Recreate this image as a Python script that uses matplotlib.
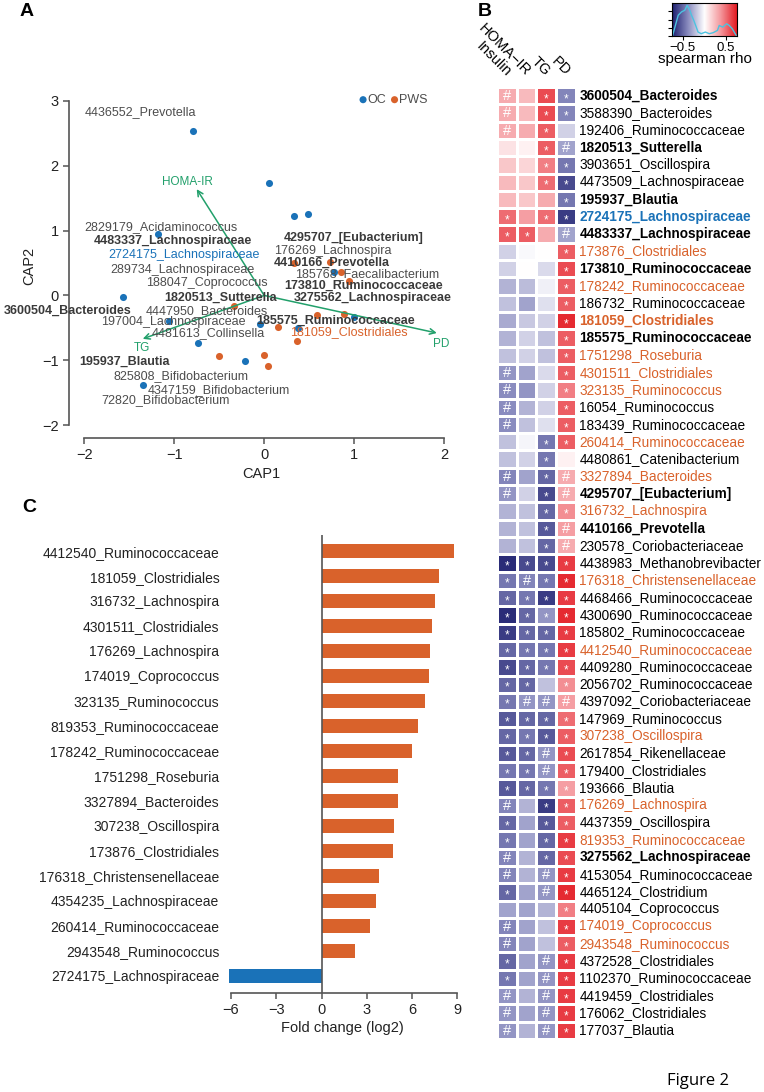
import numpy as np
import matplotlib.pyplot as plt
from matplotlib.colors import LinearSegmentedColormap

plt.rcParams['font.family'] = ['Liberation Sans', 'DejaVu Sans']

# ---- panel A: CAP ordination ----
oc_x = [-0.79, 0.05, 0.33, 0.49, -1.18, -1.57, 0.78, -1.06, -0.05, 0.38, 1.00, -0.74, -0.21, -1.35]
oc_y = [2.54, 1.74, 1.22, 1.25, 0.94, -0.03, 0.36, -0.39, -0.44, -0.50, -0.34, -0.74, -1.01, -1.38]
pws_x = [0.73, 0.33, 0.86, 0.94, -0.33, 0.59, 0.89, 0.15, 0.37, -0.50, 0.00, 0.04]
pws_y = [0.52, 0.50, 0.36, 0.22, -0.17, -0.30, -0.29, -0.49, -0.70, -0.94, -0.92, -1.09]

arrow_names = ['HOMA-IR', 'TG', 'PD']
arrow_x = [-0.75, -1.35, 1.92]
arrow_y = [1.64, -0.67, -0.58]
arrow_lab_x = [-0.85, -1.36, 1.97]
arrow_lab_y = [1.75, -0.81, -0.75]

otu_names = ['4436552_Prevotella', '2829179_Acidaminococcus', '4483337_Lachnospiraceae',
             '2724175_Lachnospiraceae', '289734_Lachnospiraceae', '188047_Coprococcus',
             '1820513_Sutterella', '3600504_Bacteroides', '4447950_Bacteroides',
             '197004_Lachnospiraceae', '4481613_Collinsella', '195937_Blautia',
             '825808_Bifidobacterium', '4347159_Bifidobacterium', '72820_Bifidobacterium',
             '4295707_[Eubacterium]', '176269_Lachnospira', '4410166_Prevotella',
             '185768_Faecalibacterium', '173810_Ruminococcaceae', '3275562_Lachnospiraceae',
             '185575_Ruminococcaceae', '181059_Clostridiales']
otu_x = [-1.38, -1.15, -1.02, -0.89, -0.91, -0.64, -0.48, -2.19, -0.64, -1.01, -0.62, -1.55,
         -0.92, -0.50, -1.10, 1.00, 0.76, 0.75, 1.15, 1.11, 1.21, 0.79, 0.94]
otu_y = [2.83, 1.06, 0.84, 0.62, 0.39, 0.19, -0.04, -0.23, -0.24, -0.41, -0.58, -1.03,
         -1.25, -1.46, -1.62, 0.88, 0.69, 0.51, 0.33, 0.15, -0.04, -0.39, -0.56]
# n = normal, b = bold, o = orange, c = blue
otu_kind = ['n', 'n', 'b', 'c', 'n', 'n', 'b', 'b', 'n', 'n', 'n', 'b',
            'n', 'n', 'n', 'b', 'n', 'b', 'n', 'b', 'b', 'b', 'o']

# ---- panel B: spearman heatmap ----
heat_cols = ['Insulin', 'HOMA\u2212IR', 'TG', 'PD']
heat_rows = ['3600504_Bacteroides', '3588390_Bacteroides', '192406_Ruminococcaceae',
             '1820513_Sutterella', '3903651_Oscillospira', '4473509_Lachnospiraceae',
             '195937_Blautia', '2724175_Lachnospiraceae', '4483337_Lachnospiraceae',
             '173876_Clostridiales', '173810_Ruminococcaceae', '178242_Ruminococcaceae',
             '186732_Ruminococcaceae', '181059_Clostridiales', '185575_Ruminococcaceae',
             '1751298_Roseburia', '4301511_Clostridiales', '323135_Ruminococcus',
             '16054_Ruminococcus', '183439_Ruminococcaceae', '260414_Ruminococcaceae',
             '4480861_Catenibacterium', '3327894_Bacteroides', '4295707_[Eubacterium]',
             '316732_Lachnospira', '4410166_Prevotella', '230578_Coriobacteriaceae',
             '4438983_Methanobrevibacter', '176318_Christensenellaceae', '4468466_Ruminococcaceae',
             '4300690_Ruminococcaceae', '185802_Ruminococcaceae', '4412540_Ruminococcaceae',
             '4409280_Ruminococcaceae', '2056702_Ruminococcaceae', '4397092_Coriobacteriaceae',
             '147969_Ruminococcus', '307238_Oscillospira', '2617854_Rikenellaceae',
             '179400_Clostridiales', '193666_Blautia', '176269_Lachnospira',
             '4437359_Oscillospira', '819353_Ruminococcaceae', '3275562_Lachnospiraceae',
             '4153054_Ruminococcaceae', '4465124_Clostridium', '4405104_Coprococcus',
             '174019_Coprococcus', '2943548_Ruminococcus', '4372528_Clostridiales',
             '1102370_Ruminococcaceae', '4419459_Clostridiales', '176062_Clostridiales',
             '177037_Blautia']
row_kind = ['b', 'n', 'n', 'b', 'n', 'n', 'b', 'cb', 'b', 'o', 'b', 'o', 'n', 'ob', 'b',
            'o', 'o', 'o', 'n', 'n', 'o', 'n', 'o', 'b', 'o', 'b', 'n', 'n', 'o', 'n',
            'n', 'n', 'o', 'n', 'n', 'n', 'n', 'o', 'n', 'n', 'n', 'o', 'n', 'o', 'b',
            'n', 'n', 'n', 'o', 'o', 'n', 'n', 'n', 'n', 'n']
heat_rho = [
    [0.30, 0.25, 0.60, -0.40], [0.30, 0.25, 0.60, -0.40], [0.30, 0.30, 0.55, -0.15],
    [0.10, 0.05, 0.55, -0.30], [0.20, 0.15, 0.45, -0.45], [0.25, 0.20, 0.50, -0.60],
    [0.25, 0.20, 0.30, -0.45], [0.50, 0.35, 0.50, -0.65], [0.55, 0.55, 0.30, -0.30],
    [-0.15, -0.02, 0.00, 0.55], [-0.15, 0.00, -0.12, 0.60], [-0.25, -0.22, -0.05, 0.55],
    [-0.20, -0.30, -0.10, 0.55], [-0.28, -0.18, -0.15, 0.70], [-0.25, -0.15, -0.20, 0.55],
    [-0.20, -0.15, -0.20, 0.55], [-0.35, -0.30, -0.12, 0.55], [-0.38, -0.35, -0.15, 0.45],
    [-0.38, -0.25, -0.15, 0.55], [-0.38, -0.20, -0.10, 0.55], [-0.20, -0.03, -0.45, 0.55],
    [-0.20, -0.15, -0.45, 0.05], [-0.40, -0.30, -0.50, 0.30], [-0.35, -0.15, -0.60, 0.30],
    [-0.25, -0.20, -0.50, 0.40], [-0.25, -0.20, -0.55, 0.35], [-0.25, -0.20, -0.50, 0.30],
    [-0.70, -0.60, -0.60, 0.65], [-0.45, -0.40, -0.45, 0.70], [-0.50, -0.45, -0.65, 0.65],
    [-0.70, -0.50, -0.35, 0.70], [-0.65, -0.50, -0.50, 0.65], [-0.50, -0.45, -0.45, 0.65],
    [-0.60, -0.50, -0.45, 0.60], [-0.50, -0.50, -0.20, 0.40], [-0.45, -0.35, -0.35, 0.35],
    [-0.55, -0.50, -0.50, 0.50], [-0.50, -0.45, -0.55, 0.55], [-0.55, -0.50, -0.35, 0.60],
    [-0.45, -0.45, -0.35, 0.55], [-0.55, -0.50, -0.45, 0.35], [-0.40, -0.25, -0.65, 0.55],
    [-0.50, -0.30, -0.55, 0.55], [-0.45, -0.30, -0.50, 0.65], [-0.40, -0.25, -0.50, 0.60],
    [-0.40, -0.25, -0.35, 0.65], [-0.50, -0.30, -0.35, 0.70], [-0.30, -0.30, -0.25, 0.45],
    [-0.40, -0.30, -0.20, 0.65], [-0.40, -0.30, -0.20, 0.55], [-0.50, -0.30, -0.35, 0.65],
    [-0.45, -0.30, -0.35, 0.65], [-0.35, -0.25, -0.35, 0.65], [-0.35, -0.30, -0.35, 0.65],
    [-0.35, -0.25, -0.35, 0.65]]
heat_sig = ['# **', '# **', '# * ', '  *#', '  **', '  **', '   *', '* **', '** #',
            '   *', '   *', '   *', '   *', '   *', '   *', '   *', '#  *', '#  *',
            '#  *', '#  *', '  **', '  * ', '# *#', '# *#', '  **', '  *#', '  *#',
            '****', '*#**', '****', '****', '****', '****', '****', '** *', '*###',
            '****', '****', '**#*', '**#*', '****', '# **', '* **', '* **', '# **',
            '# #*', '* #*', '   *', '#  *', '#  *', '* #*', '* #*', '# #*', '# #*', '# #*']

# density of rho values (key histogram)
dens_x = [-0.735, -0.606, -0.53, -0.455, -0.40, -0.34, -0.30, -0.25, -0.19, -0.15, -0.076,
          0.02, 0.11, 0.20, 0.30, 0.34, 0.42, 0.51, 0.57, 0.64, 0.73]
dens_y = [0.02, 0.63, 0.73, 0.78, 0.93, 0.78, 0.63, 0.48, 0.27, 0.12, 0.07,
          0.12, 0.07, 0.10, 0.17, 0.32, 0.27, 0.37, 0.32, 0.22, 0.02]

# ---- panel C: fold change ----
fc_names = ['4412540_Ruminococcaceae', '181059_Clostridiales', '316732_Lachnospira',
            '4301511_Clostridiales', '176269_Lachnospira', '174019_Coprococcus',
            '323135_Ruminococcus', '819353_Ruminococcaceae', '178242_Ruminococcaceae',
            '1751298_Roseburia', '3327894_Bacteroides', '307238_Oscillospira',
            '173876_Clostridiales', '176318_Christensenellaceae', '4354235_Lachnospiraceae',
            '260414_Ruminococcaceae', '2943548_Ruminococcus', '2724175_Lachnospiraceae']
fc_vals = [8.74, 7.79, 7.52, 7.34, 7.17, 7.10, 6.88, 6.37, 6.02, 5.03, 5.07, 4.78,
           4.70, 3.77, 3.61, 3.22, 2.18, -6.11]

BLUE = '#1a72b8'
ORANGE = '#d9622b'
GREEN = '#22a06b'
GREY = '#4d4d4d'

fig = plt.figure(figsize=(7.64, 10.92), dpi=100)
W, H = 764, 1092


def px_axes(l, t, r, b):
    return fig.add_axes([l / W, 1 - b / H, (r - l) / W, (b - t) / H])


# ---------------- A ----------------
ax = px_axes(69, 94.5, 453, 438)
ax.scatter(oc_x, oc_y, s=26, color=BLUE, zorder=3, linewidths=0)
ax.scatter(pws_x, pws_y, s=26, color=ORANGE, zorder=3, linewidths=0)
for name, tx, ty, lx, ly in zip(arrow_names, arrow_x, arrow_y, arrow_lab_x, arrow_lab_y):
    ax.annotate('', xy=(tx, ty), xytext=(0, 0),
                arrowprops=dict(arrowstyle='->', color=GREEN, lw=1.1, shrinkA=0, shrinkB=0))
    ax.text(lx, ly, name, color=GREEN, fontsize=8.5, ha='center', va='center')
for name, x, y, k in zip(otu_names, otu_x, otu_y, otu_kind):
    col = {'n': GREY, 'b': '#3a3a3a', 'o': ORANGE, 'c': BLUE}[k]
    ax.text(x, y, name, color=col, fontsize=9, ha='center', va='center',
            fontweight='bold' if k == 'b' else 'normal', clip_on=False, zorder=4)
# legend
ax.scatter([1.1, 1.45], [3.02, 3.02], s=26, color=[BLUE, ORANGE], linewidths=0, clip_on=False)
ax.text(1.15, 3.02, 'OC', fontsize=9, color=GREY, va='center')
ax.text(1.5, 3.02, 'PWS', fontsize=9, color=GREY, va='center')

ax.set_xlim(-2.17, 2.1)
ax.set_ylim(-2.2, 3.1)
ax.set_xticks([-2, -1, 0, 1, 2])
ax.set_yticks([-2, -1, 0, 1, 2, 3])
ax.spines['left'].set_bounds(-2, 3)
ax.spines['bottom'].set_bounds(-2, 2)
for s in ['top', 'right']:
    ax.spines[s].set_visible(False)
for s in ['left', 'bottom']:
    ax.spines[s].set_color('#555555')
    ax.spines[s].set_linewidth(1.2)
ax.tick_params(colors='#555555', labelcolor='#222222', labelsize=10.5, length=4, width=1.1)
ax.set_xlabel('CAP1', fontsize=10.5, color='#222222', labelpad=3)
ax.set_ylabel('CAP2', fontsize=10.5, color='#222222', labelpad=4)

# ---------------- B ----------------
cmap = LinearSegmentedColormap.from_list('rb', ['#1c1e6e', '#8b8dc0', '#ffffff', '#f4979c', '#e31a22'])
axb = px_axes(497, 87, 576, 1039)
rho = np.array(heat_rho)
nrow = len(heat_rows)
axb.pcolormesh(np.arange(5), np.arange(nrow + 1), rho, cmap=cmap, vmin=-0.75, vmax=0.75,
               edgecolors='white', linewidth=0.8)
axb.set_xlim(0, 4)
axb.set_ylim(nrow, 0)
axb.axis('off')
for i, marks in enumerate(heat_sig):
    for j, m in enumerate(marks):
        if m == '*':
            axb.text(j + 0.5, i + 0.7, '*', color='white', fontsize=8.5, ha='center', va='center')
        elif m == '#':
            axb.text(j + 0.5, i + 0.52, '#', color='white', fontsize=10.5, ha='center', va='center')
for i, (name, k) in enumerate(zip(heat_rows, row_kind)):
    col = ORANGE if k.startswith('o') else (BLUE if k.startswith('c') else 'black')
    axb.text(4.17, i + 0.5, name, color=col, fontsize=9.8, ha='left', va='center',
             fontweight='bold' if k.endswith('b') else 'normal', clip_on=False)
for j, c in enumerate(heat_cols):
    axb.text(j + 0.6, -0.75, c, rotation=-45, rotation_mode='anchor', ha='right', va='center',
             fontsize=10.5, clip_on=False)

# key
axk = px_axes(672, 3, 737, 36)
axk.imshow(np.linspace(-0.75, 0.75, 256)[None, :], cmap=cmap, vmin=-0.75, vmax=0.75,
           extent=[-0.75, 0.75, 0, 1], aspect='auto')
axk.plot(dens_x, dens_y, color='#4cc3e0', lw=1)
axk.set_xlim(-0.75, 0.75)
axk.set_ylim(0, 1)
axk.set_xticks([-0.5, 0.5])
axk.set_xticklabels(['\u22120.5', '0.5'])
axk.set_yticks([0, 0.25, 0.5, 0.75])
axk.set_yticklabels([])
axk.tick_params(labelsize=9.5, length=3, width=0.8, pad=1)
for s in axk.spines.values():
    s.set_linewidth(0.8)
axk.set_xlabel('spearman rho', fontsize=11, labelpad=-1)

# ---------------- C ----------------
axc = px_axes(223.5, 534.8, 460.5, 992.7)
ypos = np.arange(len(fc_names))
cols = [ORANGE if v > 0 else BLUE for v in fc_vals]
axc.barh(ypos, fc_vals, height=0.56, color=cols)
axc.axvline(0, color='#555555', lw=1.2)
axc.set_xlim(-6.5, 9.2)
axc.set_ylim(17.68, -0.65)
axc.set_yticks(ypos)
axc.set_yticklabels(fc_names)
axc.set_xticks([-6, -3, 0, 3, 6, 9])
axc.spines['bottom'].set_bounds(-6, 9)
axc.spines['bottom'].set_color('#555555')
axc.spines['bottom'].set_linewidth(1.2)
for s in ['top', 'right', 'left']:
    axc.spines[s].set_visible(False)
axc.tick_params(axis='y', length=0, pad=3, labelsize=10, labelcolor='#222222')
axc.tick_params(axis='x', length=4, width=1.1, colors='#555555', labelcolor='#222222', labelsize=10.5)
axc.set_xlabel('Fold change (log2)', fontsize=10.5, labelpad=3, color='#222222')

# panel letters and caption
fig.text(20 / W, 1 - 12 / H, 'A', fontsize=14, fontweight='bold', va='center')
fig.text(478 / W, 1 - 12 / H, 'B', fontsize=14, fontweight='bold', va='center')
fig.text(22 / W, 1 - 508 / H, 'C', fontsize=14, fontweight='bold', va='center')
fig.text(698 / W, 1 - 1081 / H, 'Figure 2', fontsize=12, ha='center', va='center',
         family=['Open Sans', 'DejaVu Sans'])

fig.savefig('out.png', dpi=100)
